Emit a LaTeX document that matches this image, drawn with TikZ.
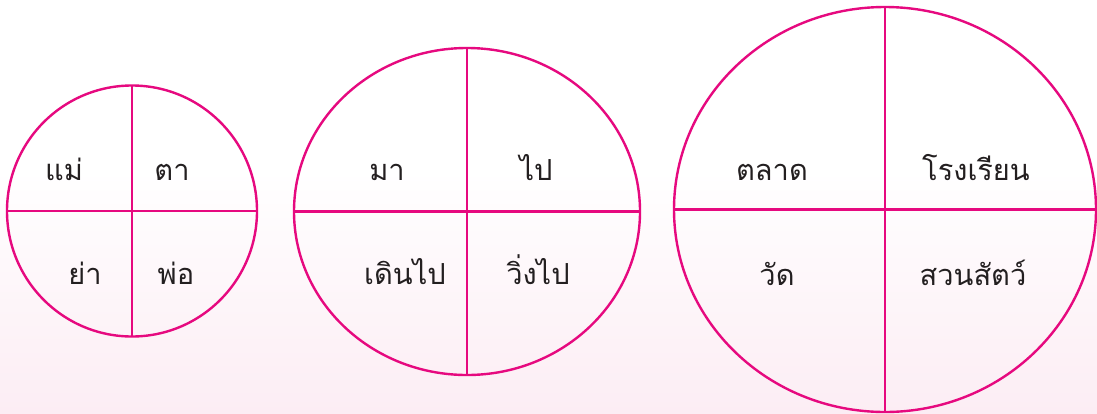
\documentclass[tikz,border=0pt]{standalone}
\usepackage{fontspec}
\newfontfamily\thaifont[Script=Thai]{Loma}
\definecolor{ring}{HTML}{E6097F}
\definecolor{bgpink}{HTML}{FCEDF4}
\definecolor{ink}{HTML}{231F20}
\begin{document}
\begin{tikzpicture}[x=1pt,y=-1pt,
  ringline/.style={draw=ring,line width=2.4pt},
  word/.style={anchor=base,inner sep=0pt,text=ink,font=\thaifont\fontsize{29}{35}\selectfont}]
\useasboundingbox (0,0) rectangle (1097,413);
\fill[white] (0,0) rectangle (1097,413);
\shade[top color=white,bottom color=bgpink] (0,170) rectangle (1097,413);
% circle 1
\coordinate (c1) at (132,211);
\coordinate (c1t) at (132,86); \coordinate (c1b) at (132,337);
\coordinate (c1l) at (7,211); \coordinate (c1r) at (257,211);
\draw[ringline] (c1) ellipse [x radius=125, y radius=125.5];
\draw[ringline] (c1t) -- (c1b);
\draw[ringline] (c1l) -- (c1r);
\node[word] (w11) at (64,180) {แม่};
\node[word] (w12) at (172,180) {ตา};
\node[word] (w13) at (85,284) {ย่า};
\node[word] (w14) at (176,284) {พ่อ};
% circle 2
\coordinate (c2) at (467,211.5);
\coordinate (c2t) at (467,48); \coordinate (c2b) at (467,375);
\coordinate (c2l) at (294,211.5); \coordinate (c2r) at (640,211.5);
\draw[ringline] (c2) ellipse [x radius=173, y radius=163.5];
\draw[ringline] (c2t) -- (c2b);
\draw[ringline] (c2l) -- (c2r);
\node[word] (w21) at (387,180) {มา};
\node[word] (w22) at (536,180) {ไป};
\node[word] (w23) at (405,284) {เดินไป};
\node[word] (w24) at (538,284) {วิ่งไป};
% circle 3
\coordinate (c3) at (885,209.5);
\coordinate (c3t) at (885,7); \coordinate (c3b) at (885,412);
\coordinate (c3l) at (674,209.5); \coordinate (c3r) at (1096,209.5);
\draw[ringline] (c3) ellipse [x radius=211, y radius=202.5];
\draw[ringline] (c3t) -- (c3b);
\draw[ringline] (c3l) -- (c3r);
\node[word] (w31) at (772,180) {ตลาด};
\node[word] (w32) at (976,180) {โรงเรียน};
\node[word] (w33) at (777,285) {วัด};
\node[word] (w34) at (973,285) {สวนสัตว์};
\end{tikzpicture}
\end{document}
